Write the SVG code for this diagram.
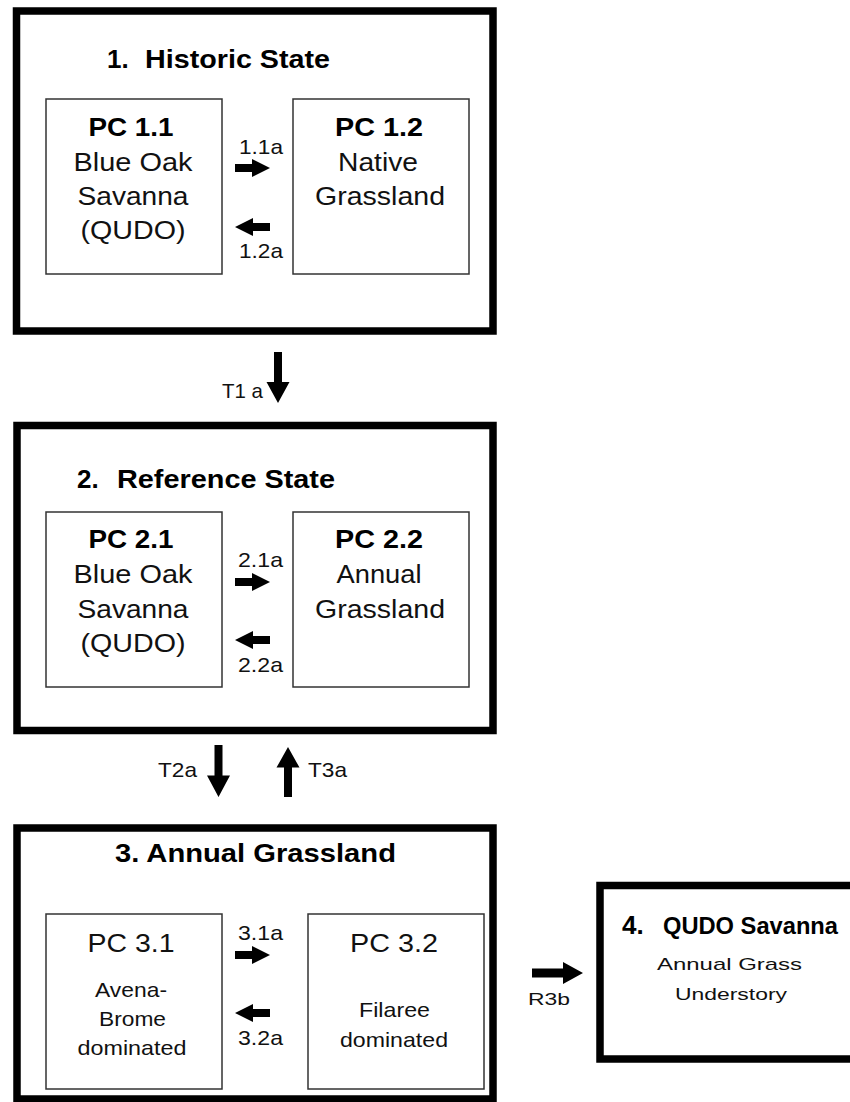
<svg xmlns="http://www.w3.org/2000/svg" xmlns:xlink="http://www.w3.org/1999/xlink" width="850" height="1102" viewBox="0 0 850 1102">
<style>
.state{fill:#fff;stroke:#000;stroke-width:7.5}
.pc{fill:#fff;stroke:#333;stroke-width:1.5}
text{font-family:"Liberation Sans",Arial,sans-serif;fill:#111}
.title{font-size:26px;font-weight:bold;fill:#000}
.pch{font-size:26px;font-weight:bold;fill:#000;text-anchor:middle}
.pct{font-size:26px;text-anchor:middle}
.sm{font-size:21px;text-anchor:middle}
.lbl{font-size:21px}
.lbl4{font-size:17px}
.arrow{fill:#000}
</style>
<defs>
<path id="ha" d="M0,-4 H17 V-9 L35,0 L17,9 V4 H0 Z"/>
<path id="va" d="M-4,0 V30 H-11.5 L0,51 L11.5,30 H4 V0 Z"/>
</defs>
<rect width="850" height="1102" fill="#fff"/>

<g id="state1">
<rect class="state" x="16.5" y="11" width="476.5" height="320"/>
<text class="title" x="107" y="68">1.<tspan x="145" textLength="185" lengthAdjust="spacingAndGlyphs">Historic State</tspan></text>
</g>
<g id="pc11">
<rect class="pc" x="46" y="99" width="176" height="175"/>
<text class="pch" x="131" y="136" textLength="85" lengthAdjust="spacingAndGlyphs">PC 1.1</text>
<text class="pct" x="133" y="171" textLength="119" lengthAdjust="spacingAndGlyphs">Blue Oak</text>
<text class="pct" x="133" y="205" textLength="111" lengthAdjust="spacingAndGlyphs">Savanna</text>
<text class="pct" x="133" y="239" textLength="105" lengthAdjust="spacingAndGlyphs">(QUDO)</text>
</g>
<g id="pc12">
<rect class="pc" x="293" y="99" width="176" height="175"/>
<text class="pch" x="379" y="136" textLength="88" lengthAdjust="spacingAndGlyphs">PC 1.2</text>
<text class="pct" x="378" y="171" textLength="80" lengthAdjust="spacingAndGlyphs">Native</text>
<text class="pct" x="380" y="205" textLength="130" lengthAdjust="spacingAndGlyphs">Grassland</text>
</g>

<g id="state2">
<rect class="state" x="17" y="425.5" width="476" height="305"/>
<text class="title" x="77" y="488">2.<tspan x="117" textLength="218" lengthAdjust="spacingAndGlyphs">Reference State</tspan></text>
</g>
<g id="pc21">
<rect class="pc" x="46" y="512" width="176" height="175"/>
<text class="pch" x="131" y="548" textLength="85" lengthAdjust="spacingAndGlyphs">PC 2.1</text>
<text class="pct" x="133" y="583" textLength="119" lengthAdjust="spacingAndGlyphs">Blue Oak</text>
<text class="pct" x="133" y="618" textLength="111" lengthAdjust="spacingAndGlyphs">Savanna</text>
<text class="pct" x="133" y="652" textLength="105" lengthAdjust="spacingAndGlyphs">(QUDO)</text>
</g>
<g id="pc22">
<rect class="pc" x="293" y="512" width="176" height="175"/>
<text class="pch" x="379" y="548" textLength="88" lengthAdjust="spacingAndGlyphs">PC 2.2</text>
<text class="pct" x="379" y="583" textLength="85" lengthAdjust="spacingAndGlyphs">Annual</text>
<text class="pct" x="380" y="618" textLength="130" lengthAdjust="spacingAndGlyphs">Grassland</text>
</g>

<g id="state3">
<rect class="state" x="17" y="828" width="476" height="271"/>
<text class="title" x="115" y="862" textLength="281" lengthAdjust="spacingAndGlyphs">3. Annual Grassland</text>
</g>
<g id="pc31">
<rect class="pc" x="46" y="914" width="176" height="175"/>
<text class="pct" x="131" y="952" font-size="27" textLength="87" lengthAdjust="spacingAndGlyphs">PC 3.1</text>
<text class="sm" x="131" y="997" textLength="72" lengthAdjust="spacingAndGlyphs">Avena-</text>
<text class="sm" x="132.5" y="1026" textLength="67" lengthAdjust="spacingAndGlyphs">Brome</text>
<text class="sm" x="132" y="1055" textLength="109" lengthAdjust="spacingAndGlyphs">dominated</text>
</g>
<g id="pc32">
<rect class="pc" x="308" y="914" width="176" height="175"/>
<text class="pct" x="394" y="952" font-size="27" textLength="88" lengthAdjust="spacingAndGlyphs">PC 3.2</text>
<text class="sm" x="394.5" y="1017" textLength="71" lengthAdjust="spacingAndGlyphs">Filaree</text>
<text class="sm" x="394" y="1047" textLength="108" lengthAdjust="spacingAndGlyphs">dominated</text>
</g>

<g id="state4">
<rect class="state" x="600" y="885.5" width="260" height="173.5"/>
<text class="title" x="622" y="934" font-size="26">4.<tspan x="663" font-size="24" textLength="175" lengthAdjust="spacingAndGlyphs">QUDO Savanna</tspan></text>
<text class="lbl4" x="729.5" y="970" text-anchor="middle" textLength="145" lengthAdjust="spacingAndGlyphs">Annual Grass</text>
<text class="lbl4" x="731" y="1000" text-anchor="middle" textLength="112" lengthAdjust="spacingAndGlyphs">Understory</text>
</g>

<g id="connectors" class="arrow">
<use xlink:href="#ha" transform="translate(235,168)"/>
<use xlink:href="#ha" transform="translate(270,227) scale(-1,1)"/>
<text class="lbl" x="239" y="154" textLength="44" lengthAdjust="spacingAndGlyphs">1.1a</text>
<text class="lbl" x="239" y="258" textLength="44" lengthAdjust="spacingAndGlyphs">1.2a</text>

<use xlink:href="#ha" transform="translate(235,582)"/>
<use xlink:href="#ha" transform="translate(270,640) scale(-1,1)"/>
<text class="lbl" x="238" y="567" textLength="45" lengthAdjust="spacingAndGlyphs">2.1a</text>
<text class="lbl" x="238" y="672" textLength="45" lengthAdjust="spacingAndGlyphs">2.2a</text>

<use xlink:href="#ha" transform="translate(235,955)"/>
<use xlink:href="#ha" transform="translate(270,1013) scale(-1,1)"/>
<text class="lbl" x="238" y="940" textLength="45" lengthAdjust="spacingAndGlyphs">3.1a</text>
<text class="lbl" x="238" y="1045" textLength="45" lengthAdjust="spacingAndGlyphs">3.2a</text>

<use xlink:href="#va" transform="translate(278,352)"/>
<text class="lbl" x="222" y="398" font-size="20" textLength="41" lengthAdjust="spacingAndGlyphs">T1 a</text>

<use xlink:href="#va" transform="translate(218.5,745) scale(1,1.02)"/>
<text class="lbl" x="158" y="777" font-size="20" textLength="39" lengthAdjust="spacingAndGlyphs">T2a</text>

<use xlink:href="#va" transform="translate(288,797) scale(1,-0.98)"/>
<text class="lbl" x="308" y="777" font-size="20" textLength="39" lengthAdjust="spacingAndGlyphs">T3a</text>

<path d="M532,968.5 H563 V962 L583,973 L563,984 V977.5 H532 Z"/>
<text class="lbl4" x="528" y="1005" textLength="42" lengthAdjust="spacingAndGlyphs">R3b</text>
</g>
</svg>
